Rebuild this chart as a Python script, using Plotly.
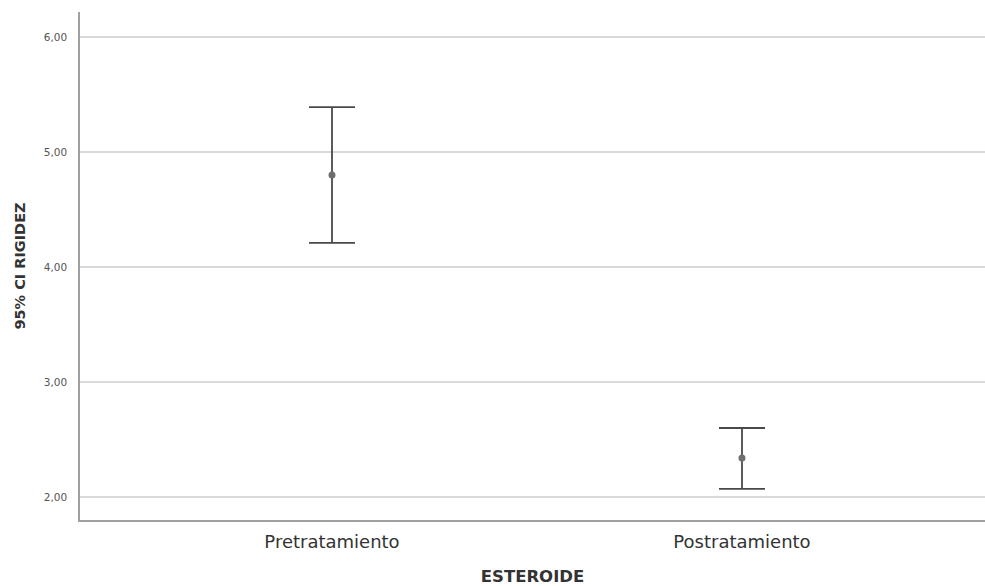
import plotly.graph_objects as go

categories = ["Pretratamiento", "Postratamiento"]
means = [4.80, 2.34]
upper = [5.39, 2.60]
lower = [4.21, 2.07]
y_ticks = [2, 3, 4, 5, 6]

err_plus = [u - m for u, m in zip(upper, means)]
err_minus = [m - l for m, l in zip(means, lower)]

fig = go.Figure()
fig.add_trace(go.Scatter(
    x=categories, y=means, mode="markers",
    marker=dict(size=7, color="#6e6e6e"),
    error_y=dict(type="data", symmetric=False, array=err_plus, arrayminus=err_minus,
                 color="#4a4a4a", thickness=1.8, width=23),
    showlegend=False, hoverinfo="skip",
))

FONT = "DejaVu Sans, Verdana, sans-serif"

fig.update_layout(
    width=985, height=586,
    margin=dict(l=80, r=0, t=12, b=66),
    plot_bgcolor="white", paper_bgcolor="white",
    separators=",.",
    font=dict(family=FONT, color="#333333"),
    xaxis=dict(
        type="category", range=[-0.6146, 1.5927],
        showline=True, linecolor="#a0a0a0", linewidth=1.5,
        showgrid=False, ticks="", ticklabelstandoff=5,
        tickfont=dict(size=18, color="#333333"),
        title=dict(text="<b>ESTEROIDE</b>", font=dict(size=16.5, color="#333333"), standoff=20),
    ),
    yaxis=dict(
        range=[1.8, 6.217], tickvals=y_ticks, tickformat=".2f",
        showline=True, linecolor="#a0a0a0", linewidth=1.5,
        showgrid=True, gridcolor="#d9d9d9", gridwidth=1.5,
        zeroline=False, ticks="", ticklabelstandoff=9,
        tickfont=dict(size=10.5, color="#555555"),
        title=dict(text="<b>95% CI RIGIDEZ</b>", font=dict(size=14.5, color="#333333"), standoff=15),
    ),
)

fig.write_html(
    "out.html",
    config={"displayModeBar": False},
    post_script="document.body.style.margin='0';document.body.style.overflow='hidden';",
)
